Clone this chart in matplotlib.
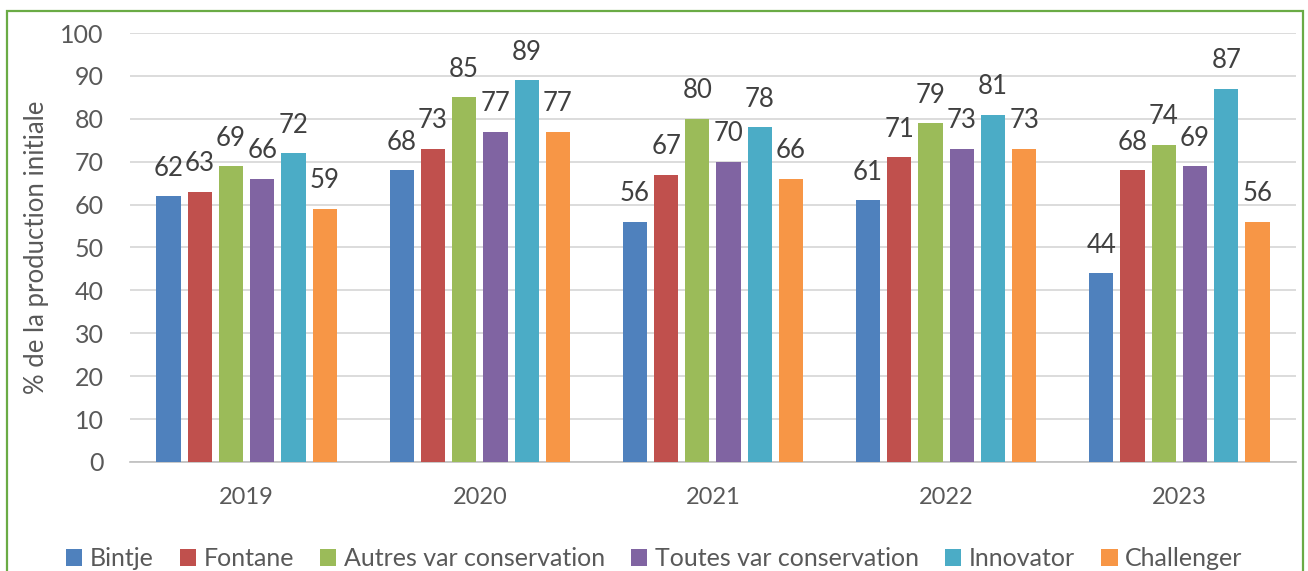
import matplotlib.pyplot as plt
from matplotlib.patches import Rectangle
import numpy as np

plt.rcParams['font.family'] = ['Lato', 'DejaVu Sans']

years = ['2019', '2020', '2021', '2022', '2023']
series = ['Bintje', 'Fontane', 'Autres var conservation',
          'Toutes var conservation', 'Innovator', 'Challenger']
values = {
    'Bintje': [62, 68, 56, 61, 44],
    'Fontane': [63, 73, 67, 71, 68],
    'Autres var conservation': [69, 85, 80, 79, 74],
    'Toutes var conservation': [66, 77, 70, 73, 69],
    'Innovator': [72, 89, 78, 81, 87],
    'Challenger': [59, 77, 66, 73, 56],
}
colors = ['#4F81BD', '#C0504D', '#9BBB59', '#8064A2', '#4BACC6', '#F79646']
grey = '#595959'

fig = plt.figure(figsize=(13.08, 5.71), dpi=100)
ax = fig.add_axes([0.0994, 0.1909, 0.8914, 0.7513])

x = np.arange(len(years))
step = 0.134
width = 0.104
for i, (name, c) in enumerate(zip(series, colors)):
    pos = x + (i - 2.5) * step
    bars = ax.bar(pos, values[name], width=width, color=c, label=name, zorder=3)
    for b, v in zip(bars, values[name]):
        ax.text(b.get_x() + b.get_width() / 2, v + 3.6, str(v),
                ha='center', va='bottom', fontsize=18.5, color='#404040')

ax.set_xlim(-0.5, 4.5)
ax.set_ylim(0, 100)
ax.set_yticks(range(0, 101, 10))
ax.set_xticks(x)
ax.set_xticklabels(years)
ax.tick_params(axis='both', length=0, colors=grey)
ax.tick_params(axis='y', pad=19, labelsize=18)
ax.tick_params(axis='x', pad=18, labelsize=17)
ax.grid(axis='y', color='#D9D9D9', linewidth=1.3, zorder=0)
for s in ['top', 'right', 'left']:
    ax.spines[s].set_visible(False)
ax.spines['bottom'].set_color('#BFBFBF')
ax.spines['bottom'].set_linewidth(1.2)
ax.set_ylabel('% de la production initiale', fontsize=18.5, color=grey, labelpad=8)

fig.legend(loc='center', bbox_to_anchor=(0.5, 0.022), ncol=6, frameon=False,
           fontsize=18, handlelength=0.65, handleheight=0.65, handletextpad=0.3,
           columnspacing=1.05, labelcolor=grey)

fig.patches.append(Rectangle((7 / 1308, -0.05), 1296 / 1308, 1.05 - 11 / 571,
                             transform=fig.transFigure, fill=False,
                             edgecolor='#6AAB45', linewidth=1.6))

fig.savefig('out.png', dpi=100)
